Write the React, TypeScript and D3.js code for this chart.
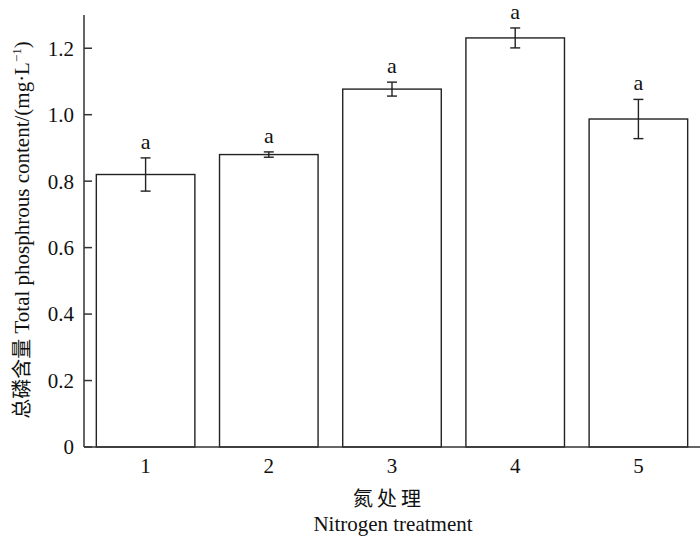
import React from "react";
import * as d3 from "d3";

const categories = ["1", "2", "3", "4", "5"];
const values = [0.82, 0.88, 1.077, 1.231, 0.987];
const errors = [0.05, 0.008, 0.021, 0.03, 0.059];
const letters = ["a", "a", "a", "a", "a"];
const yTicks = [0, 0.2, 0.4, 0.6, 0.8, 1.0, 1.2];

const W = 700;
const H = 538;
const left = 84;
const right = 700;
const top = 15;
const bottom = 447;

export default function App() {
  const x = d3.scaleBand<string>().domain(categories).range([left, right]).paddingInner(0.2).paddingOuter(0.1);
  const y = d3.scaleLinear().domain([0, 1.3]).range([bottom, top]);
  const serif = "'Liberation Serif', 'Times New Roman', serif";
  const cjk = "'Noto Sans CJK SC', sans-serif";
  const axisColor = "#333";
  return (
    <svg width={W} height={H} style={{ position: "absolute", left: 0, top: 0 }}>
      <rect width={W} height={H} fill="#fff" />
      {values.map((v, i) => {
        const bx = x(categories[i])!;
        const bw = x.bandwidth();
        const cx = bx + bw / 2;
        const e = errors[i];
        return (
          <g key={i}>
            <rect x={bx} y={y(v)} width={bw} height={y(0) - y(v)} fill="#fff" stroke="#222" strokeWidth={1.4} />
            <line x1={cx} x2={cx} y1={y(v + e)} y2={y(v - e)} stroke="#222" strokeWidth={1.4} />
            <line x1={cx - 5} x2={cx + 5} y1={y(v + e)} y2={y(v + e)} stroke="#222" strokeWidth={1.4} />
            <line x1={cx - 5} x2={cx + 5} y1={y(v - e)} y2={y(v - e)} stroke="#222" strokeWidth={1.4} />
            <text x={cx} y={y(v + e) - 9} textAnchor="middle" fontFamily={serif} fontSize={22} fill="#111">
              {letters[i]}
            </text>
            <text x={cx} y={bottom + 26} textAnchor="middle" fontFamily={serif} fontSize={21} fill="#111">
              {categories[i]}
            </text>
          </g>
        );
      })}
      <line x1={left} x2={left} y1={top} y2={bottom} stroke={axisColor} strokeWidth={1.5} />
      <line x1={left} x2={right} y1={bottom} y2={bottom} stroke={axisColor} strokeWidth={1.5} />
      {yTicks.map((t) => (
        <g key={t}>
          <line x1={left} x2={left + 8} y1={y(t)} y2={y(t)} stroke={axisColor} strokeWidth={1.5} />
          <text x={left - 10} y={y(t)} dy="0.35em" textAnchor="end" fontFamily={serif} fontSize={21} fill="#111">
            {t === 0 ? "0" : d3.format(".1f")(t)}
          </text>
        </g>
      ))}
      <text
        transform={`translate(22, 230) rotate(-90)`}
        textAnchor="middle"
        dy="0.35em"
        fontFamily={serif}
        fontSize={21}
        fill="#111"
      >
        <tspan fontFamily={cjk} fontSize={20}>总磷含量</tspan>
        <tspan> Total phosphrous content/(mg·L</tspan>
        <tspan fontSize={13} dy="-8">−1</tspan>
        <tspan dy="8">)</tspan>
      </text>
      <text x={389} y={506} textAnchor="middle" fontFamily={cjk} fontSize={20} letterSpacing={4} fill="#111">
        氮处理
      </text>
      <text x={393} y={531} textAnchor="middle" fontFamily={serif} fontSize={21} fill="#111">
        Nitrogen treatment
      </text>
    </svg>
  );
}
